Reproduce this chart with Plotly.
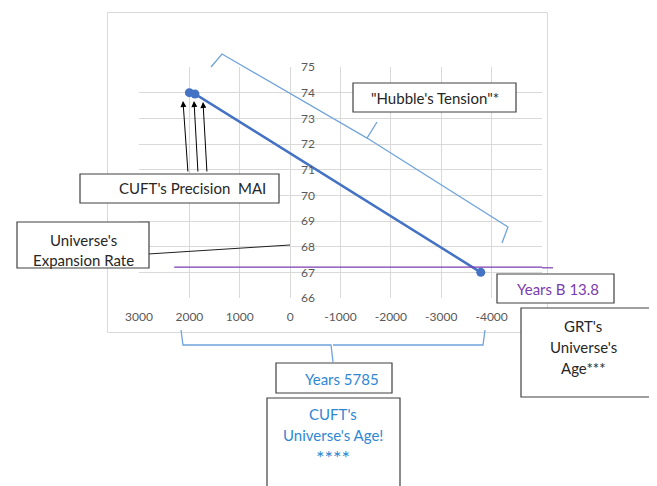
import plotly.graph_objects as go

# ---------------- data ----------------
years = [2000, 1890, -3785]          # x values (reversed axis)
hubble = [74.0, 73.95, 67.0]         # expansion rate
purple_level = 67.2                  # horizontal reference line
purple_start = 2300

x_ticks = [3000, 2000, 1000, 0, -1000, -2000, -3000, -4000, -5000]
x_ticktext = ["3000", "2000", "1000", "0", "-1000", "-2000", "-3000", "-4000", ""]
y_ticks = [66, 67, 68, 69, 70, 71, 72, 73, 74, 75]

# ---------------- layout geometry helpers (screen pixel -> paper) ----------------
OFF = 8                      # page body margin
W, H = 657 - OFF, 486 - OFF
L, R, T, B = 139, 542, 67, 298   # plot area in screen pixels


def px(p):
    return (p - L) / (R - L)


def py(p):
    return (B - p) / (B - T)


FONT = "Lato"
GRID = "#d9d9d9"
BORDER = "#404040"
BLUE = "#4472c4"
LBLUE = "#6fa3dc"
TBLUE = "#2f87d4"
PURPLE = "#7a3db0"

fig = go.Figure()
fig.add_trace(go.Scatter(
    x=years, y=hubble, mode="lines+markers",
    line=dict(color=BLUE, width=2.5),
    marker=dict(color=BLUE, size=9),
    showlegend=False, hoverinfo="skip"))

shapes = []
# outer chart border
shapes.append(dict(type="rect", xref="paper", yref="paper",
                   x0=px(107.5), x1=px(547.5), y0=py(332.5), y1=py(12.5),
                   line=dict(color=GRID, width=1), layer="below"))
# purple reference line
shapes.append(dict(type="line", xref="x", yref="y",
                   x0=purple_start, x1=-5000, y0=purple_level, y1=purple_level,
                   line=dict(color=PURPLE, width=1.2), layer="above"))
shapes.append(dict(type="line", xref="paper", yref="paper",
                   x0=1.0, x1=px(553), y0=py(267.8), y1=py(267.8),
                   line=dict(color=PURPLE, width=1.2), layer="above"))


def pathpx(pts_list):
    s = ""
    for pts in pts_list:
        for i, (a, b) in enumerate(pts):
            s += ("M" if i == 0 else "L") + f"{px(a):.5f},{py(b):.5f} "
    return s


# Hubble tension brace
shapes.append(dict(type="path", xref="paper", yref="paper",
                   path=pathpx([[(211, 67), (222, 54), (367, 138), (377, 122)],
                                [(367, 138), (508, 227), (502, 243)]]),
                   line=dict(color=LBLUE, width=1.3), layer="above"))
# bottom brace
shapes.append(dict(type="path", xref="paper", yref="paper",
                   path=pathpx([[(181, 330), (183, 345), (331, 345), (333, 362)],
                                [(333, 345), (483, 345), (485, 330)]]),
                   line=dict(color=LBLUE, width=1.3), layer="above"))
# connector from expansion-rate box to axis
shapes.append(dict(type="line", xref="paper", yref="paper",
                   x0=px(148), y0=py(254), x1=px(290), y1=py(245),
                   line=dict(color="#202020", width=1), layer="above"))


def box(x0, y0, x1, y1):
    shapes.append(dict(type="rect", xref="paper", yref="paper",
                       x0=px(x0), x1=px(x1), y0=py(y1), y1=py(y0),
                       fillcolor="white", line=dict(color=BORDER, width=1.2),
                       layer="above"))


box(80, 174, 279, 203)      # CUFT's Precision MAI
box(17, 222, 149, 268)      # Universe's Expansion Rate
box(353, 83, 516, 112)      # Hubble's Tension
box(497, 274, 614, 303)     # Years B 13.8
box(521, 308, 653, 397)     # GRT's Universe's Age
box(276, 363, 392, 393)     # Years 5785
box(267, 398, 400, 495)     # CUFT's Universe's Age

annotations = []


def text(t, xc, yc, color="#262626", size=15):
    annotations.append(dict(text=t, xref="paper", yref="paper",
                            x=px(xc), y=py(yc), xanchor="center", yanchor="middle",
                            showarrow=False, font=dict(family=FONT, size=size, color=color)))


text("CUFT's Precision\u00a0 MAI", 192, 188)
text("Universe's", 83, 240)
text("Expansion Rate", 83, 260)
text("\"Hubble's Tension\"*", 435, 98)
text("Years B 13.8", 558, 289, PURPLE)
text("GRT's", 583, 326)
text("Universe's", 583, 347)
text("Age***", 583, 368)
text("Years 5785", 342, 379, TBLUE)
text("CUFT's", 333, 414, TBLUE)
text("Universe's Age!", 333, 435, TBLUE)
text("****", 333, 457, TBLUE, 20)

# arrows from precision box to the left points
for hx, hy, tx, ty in [(183, 101, 188, 173), (194, 101, 198, 173), (203, 102, 207, 173)]:
    annotations.append(dict(x=px(hx), y=py(hy), xref="paper", yref="paper",
                            ax=tx - hx, ay=ty - hy, axref="pixel", ayref="pixel",
                            text="", showarrow=True, arrowhead=2, arrowsize=1.2,
                            arrowwidth=1, arrowcolor="#000000", standoff=0))

fig.update_layout(
    width=W, height=H,
    margin=dict(l=L - OFF, r=W - (R - OFF), t=T - OFF, b=H - (B - OFF), pad=0),
    paper_bgcolor="white", plot_bgcolor="white",
    shapes=shapes, annotations=annotations,
    font=dict(family=FONT, size=12, color="#595959"),
    xaxis=dict(range=[3000, -5000], tickvals=x_ticks, ticktext=x_ticktext,
               showgrid=True, gridcolor=GRID, gridwidth=1,
               zeroline=True, zerolinecolor=GRID, zerolinewidth=1,
               showline=False, ticks="", ticklabelstandoff=10,
               tickfont=dict(family=FONT, size=12, color="#595959")),
    yaxis=dict(range=[66, 75], tickvals=y_ticks,
               showgrid=True, gridcolor=GRID, gridwidth=1, zeroline=False,
               anchor="free", position=px(290), side="right",
               showline=False, ticks="", ticklabelstandoff=10,
               tickfont=dict(family=FONT, size=12, color="#595959")),
)

fig.write_html("out.html")
